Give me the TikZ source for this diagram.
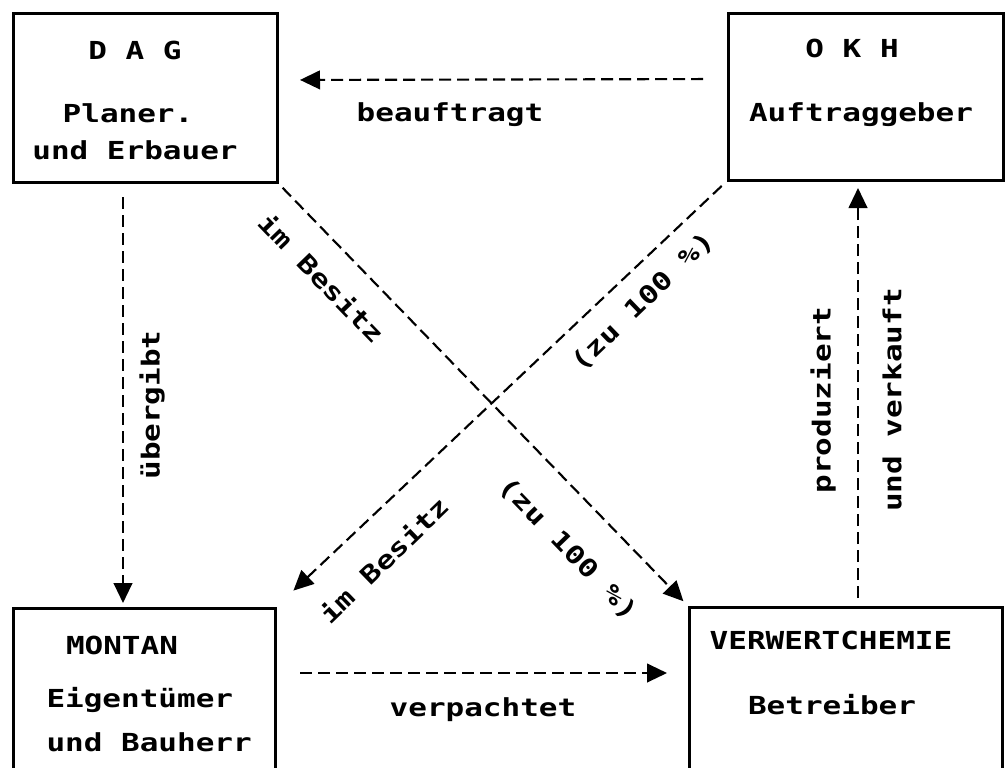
\documentclass[tikz,border=0pt]{standalone}
\usepackage{fontspec}
\usetikzlibrary{arrows.meta}
\newfontfamily\dotfont[FakeStretch=1.25]{DejaVu Sans Mono}

\tikzset{every picture/.style={line width=0.75pt},
  box/.style={draw, line width=2.25pt, inner sep=0pt, outer sep=0pt},
  flow/.style={line width=1.6pt, dash pattern=on 9pt off 4.5pt, -{Triangle[length=15pt,width=14pt]}},
  txt/.style={inner sep=0.75pt, font=\dotfont\bfseries\fontsize{18.6pt}{20pt}\selectfont}}

\begin{document}
\begin{tikzpicture}[x=0.75pt,y=0.75pt,yscale=-1,xscale=1]
        \path[use as bounding box] (0,0) rectangle (1005,767);
        \clip (0,0) rectangle (1005,767);
        %Shape: Rectangle [id:dag]
        \node[box, minimum width=198pt, minimum height=126pt] (dag) at (145,98) {};
        %Shape: Rectangle [id:okh]
        \node[box, minimum width=206.25pt, minimum height=124.5pt] (okh) at (865.5,97) {};
        %Shape: Rectangle [id:montan]
        \node[box, minimum width=196.5pt, minimum height=136.5pt] (montan) at (144,699) {};
        %Shape: Rectangle [id:verwert]
        \node[box, minimum width=234.75pt, minimum height=137.25pt] (verwert) at (845.5,698.5) {};
        %Straight Lines [id:beauftragt]
        \draw[flow, shorten <=18.75pt, shorten >=17.25pt] ([yshift=-13.5pt]okh.west) -- ([yshift=-13.5pt]dag.east);
        %Straight Lines [id:uebergibt]
        \draw[flow, shorten <=11.25pt, shorten >=3.75pt] ([xshift=-16.5pt]dag.south) -- ([xshift=-15.75pt]montan.north);
        %Straight Lines [id:produziert]
        \draw[flow, shorten <=6.75pt, shorten >=6pt] ([xshift=9.375pt]verwert.north) -- ([xshift=-5.625pt]okh.south);
        %Straight Lines [id:verpachtet]
        \draw[flow, shorten <=18.75pt, shorten >=16.5pt] ([yshift=-19.5pt]montan.east) -- ([yshift=-19.125pt]verwert.west);
        %Straight Lines [id:besitz1]
        \draw[flow, shorten <=6pt, shorten >=6pt] (dag.south east) -- (verwert.north west);
        %Straight Lines [id:besitz2]
        \draw[flow, shorten <=6.5pt, shorten >=19pt] (okh.south west) -- (montan.north east);
        % Text Node
        \node[txt] (dagname) at (135,50) {D A G};
        % Text Node
        \node[txt] (dagrole1) at (128,113) {Planer.};
        % Text Node
        \node[txt] (dagrole2) at (135,150) {und Erbauer};
        % Text Node
        \node[txt] (okhname) at (852,48) {O K H};
        % Text Node
        \node[txt] (okhrole) at (861,115) {Auftraggeber};
        % Text Node
        \node[txt] (montanname) at (122,645) {MONTAN};
        % Text Node
        \node[txt, anchor=west] (montanrole1) at (45,700) {Eigentümer};
        % Text Node
        \node[txt, anchor=west] (montanrole2) at (45,742) {und Bauherr};
        % Text Node
        \node[txt] (verwertname) at (831,640) {VERWERTCHEMIE};
        % Text Node
        \node[txt] (verwertrole) at (832,705) {Betreiber};
        % Text Node
        \node[txt] (lbeauftragt) at (450,115) {beauftragt};
        % Text Node
        \node[txt] (lverpachtet) at (483,710) {verpachtet};
        % Text Node
        \node[txt, rotate=90] (luebergibt) at (152,405) {übergibt};
        % Text Node
        \node[txt, rotate=90] (lproduziert) at (823,400) {produziert};
        % Text Node
        \node[txt, rotate=90] (lverkauft) at (892,400) {und verkauft};
        % Text Node
        \node[txt, rotate=-46] (lbesitz1) at (322,278) {im Besitz};
        % Text Node
        \node[txt, rotate=44] (lanteil1) at (643,302) {(zu 100 \%)};
        % Text Node
        \node[txt, rotate=44] (lbesitz2) at (384,560) {im Besitz};
        % Text Node
        \node[txt, rotate=-46] (lanteil2) at (568,549) {(zu 100 \%)};
    \end{tikzpicture}
\end{document}
